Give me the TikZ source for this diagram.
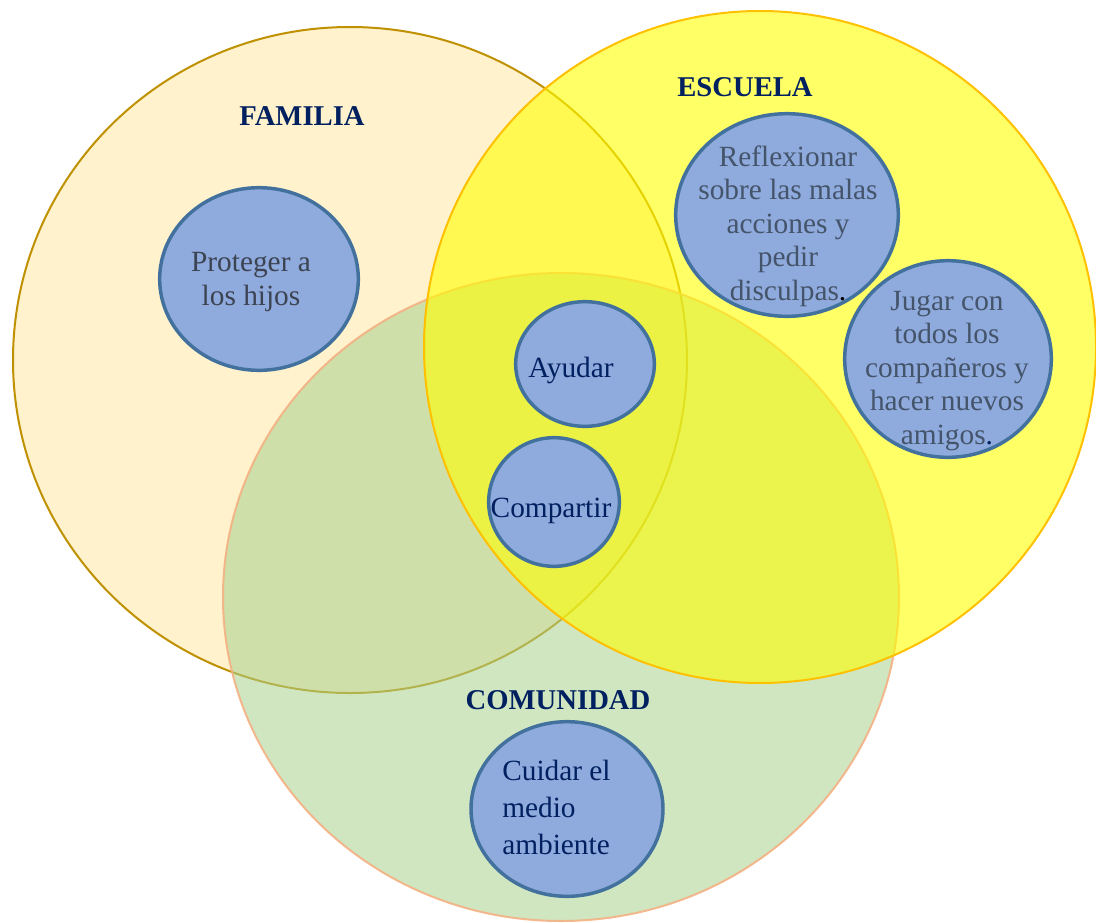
\documentclass[tikz,border=0pt]{standalone}
\usepackage{fontspec}
\setmainfont{Liberation Serif}
\usetikzlibrary{shapes.geometric}
\definecolor{famfill}{HTML}{FFF2CC}
\definecolor{famline}{HTML}{BF9000}
\definecolor{escfill}{HTML}{FFFF00}
\definecolor{escline}{HTML}{FFC000}
\definecolor{comfill}{HTML}{A9D18E}
\definecolor{comline}{HTML}{F4B183}
\definecolor{bubfill}{HTML}{8FAADC}
\definecolor{bubline}{HTML}{41719C}
\definecolor{navy}{HTML}{002060}
\definecolor{slate}{HTML}{44546A}
\definecolor{slatedark}{HTML}{3C4352}
\tikzset{
  bubble/.style={ellipse, draw=bubline, fill=bubfill, line width=2.6pt, inner sep=0pt},
  title/.style={font=\fontsize{21.5}{25}\selectfont\bfseries, text=navy, inner sep=0pt},
  txt/.style={font=\fontsize{22}{25.1}\selectfont, align=center, inner sep=0pt},
}
\begin{document}
\begin{tikzpicture}[x=0.75pt, y=-0.75pt]
\useasboundingbox (0,0) rectangle (1096,922);
\clip (0,0) rectangle (1096,922);
% big sets
\draw[fill=famfill, draw=famline, line width=1.5pt] (350,360) ellipse [x radius=252.75pt, y radius=249.75pt];
\draw[fill=comfill, draw=comline, line width=1.5pt, fill opacity=0.55, draw opacity=0.9] (561,597) ellipse [x radius=253.5pt, y radius=243pt];
\draw[fill=escfill, draw=escline, line width=1.5pt, fill opacity=0.6] (760,347) ellipse [x radius=252pt, y radius=252pt];
% titles
\node[title] (tfam) at (302,116) {FAMILIA};
\node[title] (tesc) at (745,87) {ESCUELA};
\node[title] (tcom) at (558,700) {COMUNIDAD};
% bubbles
\node[bubble, minimum width=149pt, minimum height=137pt] (bprot) at (259,279) {};
\node[bubble, minimum width=167pt, minimum height=152pt] (brefl) at (787,215) {};
\node[bubble, minimum width=155pt, minimum height=147.5pt] (bjug) at (948,359) {};
\node[bubble, minimum width=104pt, minimum height=93.5pt] (bayu) at (585,364) {};
\node[bubble, minimum width=98pt, minimum height=96.5pt] (bcom) at (554,502) {};
\node[bubble, minimum width=144pt, minimum height=131pt] (bcui) at (567,809) {};
% texts (anchor=base is the baseline of the last line)
\node[txt, text=slatedark, anchor=base] (xprot) at (251,305) {Proteger a\\los hijos};
\node[txt, text=slate, anchor=base] (xrefl) at (788,300) {Reflexionar\\sobre las malas\\acciones y\\pedir\\disculpas\textcolor{black}{.}};
\node[txt, text=slate, anchor=base] (xjug) at (947,444) {Jugar con\\todos los\\compañeros y\\hacer nuevos\\amigos\textcolor{navy}{.}};
\node[txt, text=navy, anchor=base] (xayu) at (571,377) {Ayudar};
\node[txt, text=navy, anchor=base] (xcom) at (551,517) {Compartir};
\node[txt, text=navy, anchor=base west, align=left, font=\fontsize{22}{27.4}\selectfont] (xcui) at (502,854) {Cuidar el\\medio\\ambiente};
\end{tikzpicture}
\end{document}
